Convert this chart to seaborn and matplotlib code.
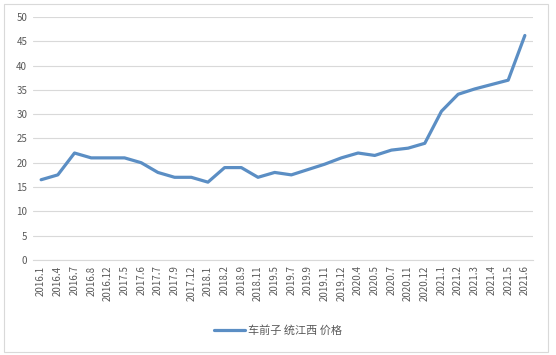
import matplotlib
matplotlib.use("Agg")
import matplotlib.pyplot as plt
import seaborn as sns
import pandas as pd
import numpy as np
from matplotlib.patches import Rectangle

labels = ["2016.1", "2016.4", "2016.7", "2016.8", "2016.12", "2017.5", "2017.6", "2017.7",
          "2017.9", "2017.12", "2018.1", "2018.2", "2018.9", "2018.11", "2019.5", "2019.7",
          "2019.9", "2019.11", "2019.12", "2020.4", "2020.5", "2020.7", "2020.11", "2020.12",
          "2021.1", "2021.2", "2021.3", "2021.4", "2021.5", "2021.6"]
prices = [16.5, 17.5, 22, 21, 21, 21, 20, 18, 17, 17,
          16, 19, 19, 17, 18, 17.5, 18.6, 19.7, 21, 22,
          21.5, 22.6, 23, 24, 30.6, 34.1, 35.2, 36.1, 37, 46.2]
series_name = "车前子 统江西 价格"

sns.set_theme(style="white")
plt.rcParams['font.family'] = ['Noto Sans CJK SC', 'DejaVu Sans']

df = pd.DataFrame({"pos": np.arange(len(labels)), "price": prices, "series": series_name})

fig = plt.figure(figsize=(5.56, 3.55), dpi=100)
ax = fig.add_axes([0.059, 0.268, 0.9, 0.684])

sns.lineplot(data=df, x="pos", y="price", hue="series", palette=["#5b8ec4"],
             linewidth=2.3, ax=ax, legend=True)

ax.set_xlim(-0.5, len(labels) - 0.5)
ax.set_ylim(0, 50)
ax.set_yticks(range(0, 51, 5))
ax.set_xticks(range(len(labels)))
ax.set_xticklabels(labels, rotation=90)
ax.tick_params(axis='both', length=0, labelsize=7, labelcolor="#595959", pad=4)
ax.set_xlabel("")
ax.set_ylabel("")
ax.yaxis.grid(True, color="#d9d9d9", linewidth=0.8)
ax.xaxis.grid(False)
for s in ["top", "right", "left"]:
    ax.spines[s].set_visible(False)
ax.spines["bottom"].set_color("#d9d9d9")
ax.spines["bottom"].set_linewidth(0.8)

leg = ax.legend(loc="center", bbox_to_anchor=(0.5, 0.069), bbox_transform=fig.transFigure,
                frameon=False, fontsize=8, handlelength=2.8, handletextpad=0.3)
for t in leg.get_texts():
    t.set_color("#595959")

fig.patches.append(Rectangle((0.008, 0.008), 0.978, 0.982, transform=fig.transFigure,
                             fill=False, edgecolor="#d9d9d9", linewidth=0.8))

fig.savefig("out.png", dpi=100)
